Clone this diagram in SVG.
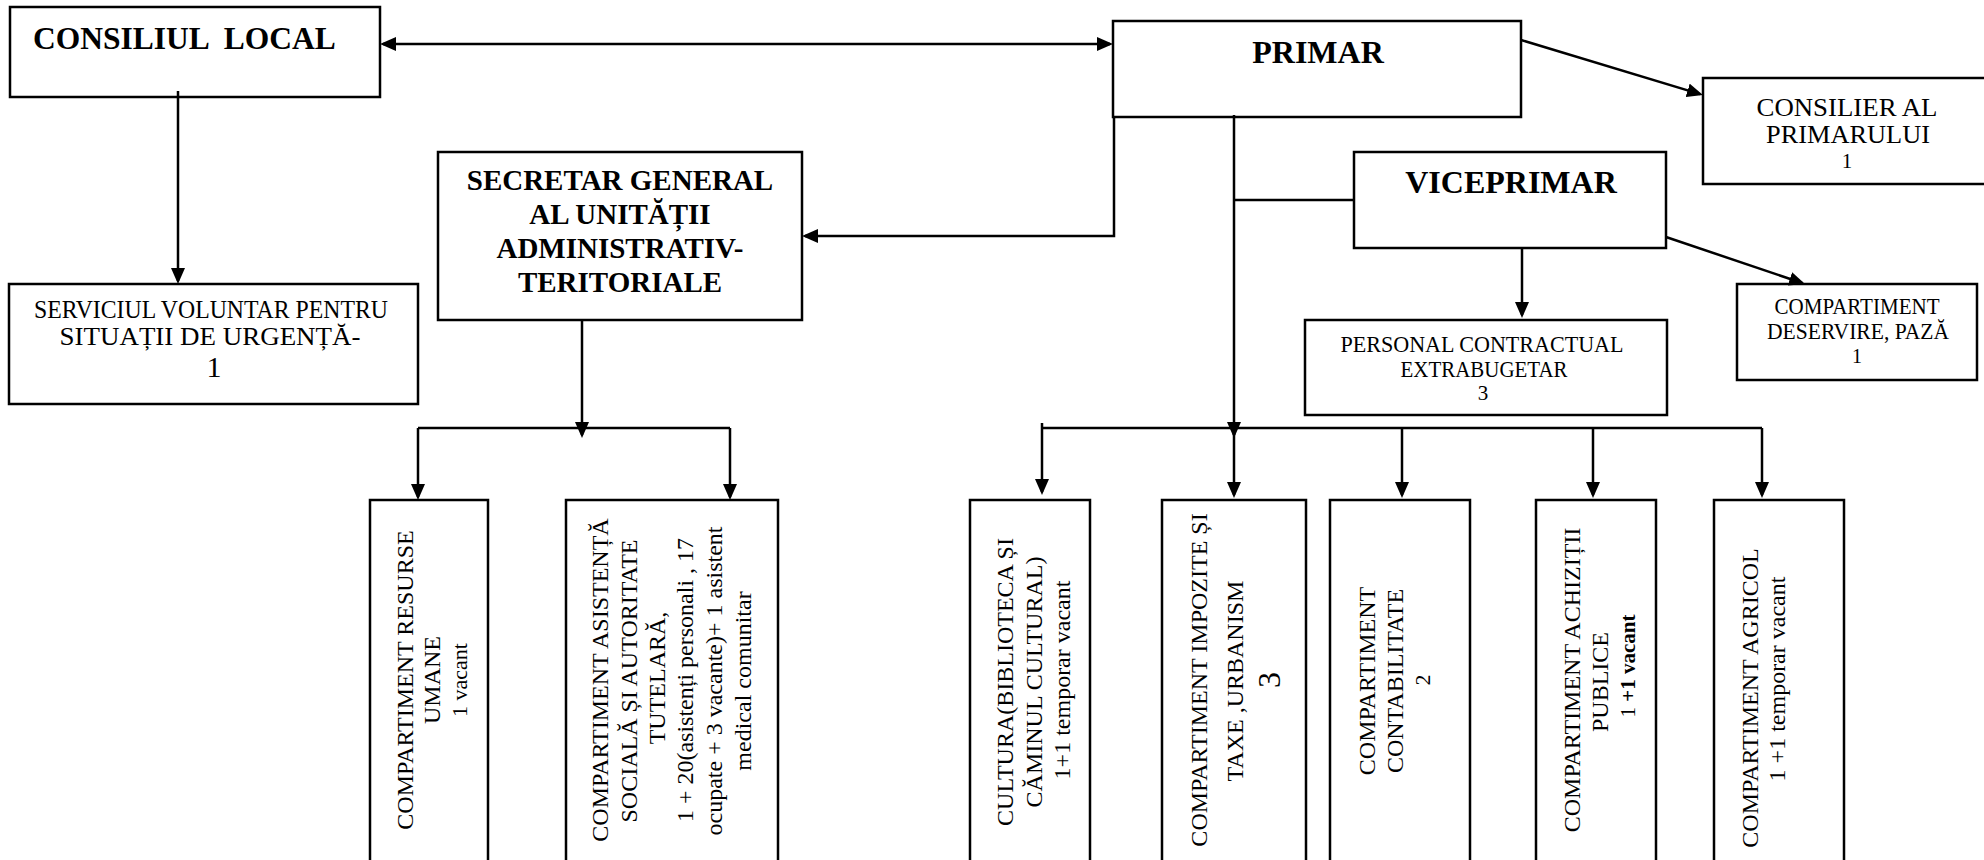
<svg xmlns="http://www.w3.org/2000/svg" width="1984" height="860" viewBox="0 0 1984 860">
<defs>
<marker id="arr" viewBox="0 0 16 14" refX="13" refY="7" markerWidth="16" markerHeight="14" markerUnits="userSpaceOnUse" orient="auto-start-reverse">
<path d="M0,0 L16,7 L0,14 z" fill="#000"/>
</marker>
<style>
.box{fill:#fff;stroke:#000;stroke-width:2.5}
.t{font-family:"Liberation Serif","Times New Roman",serif;fill:#000}
.b{font-weight:bold}
.c{text-anchor:middle}
.ln{fill:none;stroke:#000;stroke-width:2.5}
.a{marker-end:url(#arr)}
</style>
</defs>
<rect width="1984" height="860" fill="#fff"/>

<g id="consiliul-local">
<rect class="box" x="10" y="7" width="370" height="90"/>
<text class="t b" x="33" y="49" font-size="31.5" xml:space="preserve">CONSILIUL  LOCAL</text>
</g>

<g id="primar">
<rect class="box" x="1113" y="21" width="408" height="96"/>
<text class="t b c" x="1318" y="63" font-size="32">PRIMAR</text>
</g>

<g id="consilier">
<rect class="box" x="1703" y="78" width="290" height="106"/>
<text class="t c" x="1847" y="116" font-size="24.5" textLength="181" lengthAdjust="spacingAndGlyphs">CONSILIER AL</text>
<text class="t c" x="1848" y="143" font-size="24.5" textLength="164" lengthAdjust="spacingAndGlyphs">PRIMARULUI</text>
<text class="t c" x="1847" y="168" font-size="21">1</text>
</g>

<g id="viceprimar">
<rect class="box" x="1354" y="152" width="312" height="96"/>
<text class="t b c" x="1511" y="193" font-size="32">VICEPRIMAR</text>
</g>

<g id="secretar">
<rect class="box" x="438" y="152" width="364" height="168"/>
<text class="t b c" x="620" y="190" font-size="29">SECRETAR GENERAL</text>
<text class="t b c" x="620" y="224" font-size="29">AL UNITĂȚII</text>
<text class="t b c" x="620" y="258" font-size="29">ADMINISTRATIV-</text>
<text class="t b c" x="620" y="292" font-size="29">TERITORIALE</text>
</g>

<g id="serviciul-voluntar">
<rect class="box" x="9" y="284" width="409" height="120"/>
<text class="t c" x="211" y="318" font-size="25" textLength="354" lengthAdjust="spacingAndGlyphs">SERVICIUL VOLUNTAR PENTRU</text>
<text class="t c" x="210" y="345" font-size="25" textLength="301" lengthAdjust="spacingAndGlyphs">SITUAȚII DE URGENȚĂ-</text>
<text class="t c" x="214" y="377" font-size="30">1</text>
</g>

<g id="personal-contractual">
<rect class="box" x="1305" y="320" width="362" height="95"/>
<text class="t c" x="1482" y="352" font-size="24" textLength="283" lengthAdjust="spacingAndGlyphs">PERSONAL CONTRACTUAL</text>
<text class="t c" x="1484" y="377" font-size="24" textLength="167" lengthAdjust="spacingAndGlyphs">EXTRABUGETAR</text>
<text class="t c" x="1483" y="400" font-size="21">3</text>
</g>

<g id="deservire-paza">
<rect class="box" x="1737" y="284" width="240" height="96"/>
<text class="t c" x="1857" y="314" font-size="23" textLength="165" lengthAdjust="spacingAndGlyphs">COMPARTIMENT</text>
<text class="t c" x="1858" y="339" font-size="23" textLength="182" lengthAdjust="spacingAndGlyphs">DESERVIRE, PAZĂ</text>
<text class="t c" x="1857" y="363" font-size="20">1</text>
</g>

<g id="resurse-umane">
<rect class="box" x="370" y="500" width="118" height="380"/>
<text class="t c" font-size="24" transform="translate(413,680) rotate(-90)">COMPARTIMENT RESURSE</text>
<text class="t c" font-size="24" transform="translate(440,680) rotate(-90)">UMANE</text>
<text class="t c" font-size="22" transform="translate(467,680) rotate(-90)">1 vacant</text>
</g>

<g id="asistenta-sociala">
<rect class="box" x="566" y="500" width="212" height="380"/>
<text class="t c" font-size="24" transform="translate(608,680) rotate(-90)">COMPARTIMENT ASISTENȚĂ</text>
<text class="t c" font-size="24" transform="translate(637,681) rotate(-90)">SOCIALĂ ȘI AUTORITATE</text>
<text class="t c" font-size="24" transform="translate(665,678) rotate(-90)">TUTELARĂ,</text>
<text class="t c" font-size="24" transform="translate(693,680) rotate(-90)">1 + 20(asistenți personali , 17</text>
<text class="t c" font-size="24" transform="translate(722,681) rotate(-90)">ocupate + 3 vacante)+ 1 asistent</text>
<text class="t c" font-size="24" transform="translate(751,681) rotate(-90)">medical comunitar</text>
</g>

<g id="cultura">
<rect class="box" x="970" y="500" width="120" height="380"/>
<text class="t c" font-size="24" transform="translate(1013,682) rotate(-90)">CULTURA(BIBLIOTECA ȘI</text>
<text class="t c" font-size="24" transform="translate(1042,682) rotate(-90)">CĂMINUL CULTURAL)</text>
<text class="t c" font-size="24" transform="translate(1070,680) rotate(-90)">1+1 temporar vacant</text>
</g>

<g id="impozite-taxe">
<rect class="box" x="1162" y="500" width="144" height="380"/>
<text class="t c" font-size="24" transform="translate(1207,680) rotate(-90)">COMPARTIMENT IMPOZITE ȘI</text>
<text class="t c" font-size="24" transform="translate(1243,681) rotate(-90)">TAXE ,URBANISM</text>
<text class="t c" font-size="32" transform="translate(1280,680) rotate(-90)">3</text>
</g>

<g id="contabilitate">
<rect class="box" x="1330" y="500" width="140" height="380"/>
<text class="t c" font-size="24" transform="translate(1375,681) rotate(-90)">COMPARTIMENT</text>
<text class="t c" font-size="24" transform="translate(1403,681) rotate(-90)">CONTABILITATE</text>
<text class="t c" font-size="22" transform="translate(1430,680) rotate(-90)">2</text>
</g>

<g id="achizitii-publice">
<rect class="box" x="1536" y="500" width="120" height="380"/>
<text class="t c" font-size="24" transform="translate(1580,680) rotate(-90)">COMPARTIMENT ACHIZIȚII</text>
<text class="t c" font-size="24" transform="translate(1608,682) rotate(-90)">PUBLICE</text>
<text class="t c" font-size="21" transform="translate(1635,666) rotate(-90)">1 <tspan font-weight="bold">+1 vacant</tspan></text>
</g>

<g id="agricol">
<rect class="box" x="1714" y="500" width="130" height="380"/>
<text class="t c" font-size="24" transform="translate(1758,698) rotate(-90)">COMPARTIMENT AGRICOL</text>
<text class="t c" font-size="24" transform="translate(1785,679) rotate(-90)">1 +1 temporar vacant</text>
</g>

<g id="connectors">
<line class="ln" x1="383" y1="44" x2="1110" y2="44" marker-start="url(#arr)" marker-end="url(#arr)" stroke-width="3"/>
<path class="ln a" d="M178,91 V281"/>
<path class="ln a" d="M1521,40 L1700.1,94.1"/>
<path class="ln a" d="M1114,117 V236 H805"/>
<path class="ln a" d="M1234,115 V435"/>
<path class="ln" d="M1234,200 H1354"/>
<path class="ln a" d="M1522,247 V315"/>
<path class="ln a" d="M1666,237 L1802.2,283"/>
<path class="ln" d="M1042,428 H1762"/>
<path class="ln a" d="M1042,423 V492"/>
<path class="ln a" d="M1234,428 V495"/>
<path class="ln a" d="M1402,428 V495"/>
<path class="ln a" d="M1593,428 V495"/>
<path class="ln a" d="M1762,428 V495"/>
<path class="ln a" d="M582,320 V435"/>
<path class="ln" d="M418,428 H730"/>
<path class="ln a" d="M418,428 V497"/>
<path class="ln a" d="M730,428 V497"/>
</g>
</svg>
